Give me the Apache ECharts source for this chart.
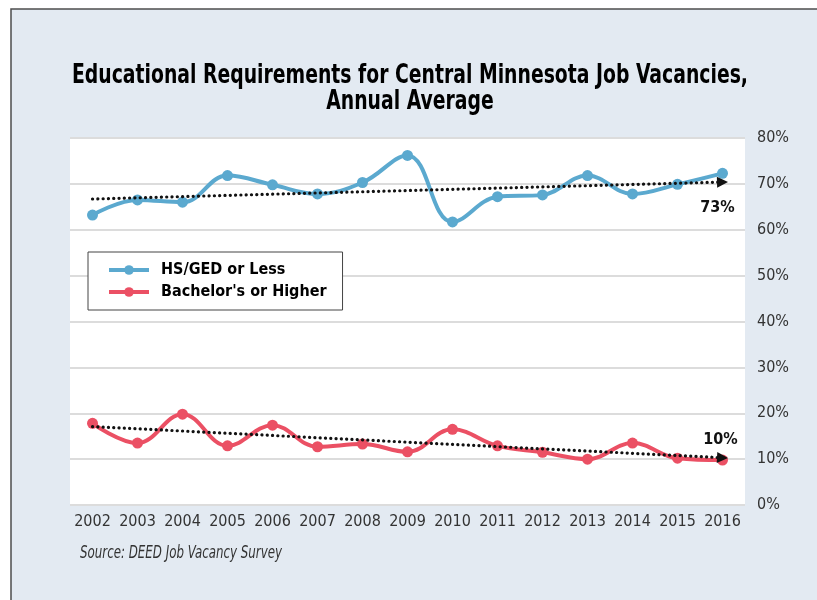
<!DOCTYPE html>
<html>
<head>
<meta charset="utf-8">
<script src="https://cdn.jsdelivr.net/npm/echarts@6/dist/echarts.min.js"></script>
<style>
  html, body { margin: 0; padding: 0; background: #fff; }
  #chart { width: 817px; height: 600px; }
</style>
</head>
<body>
<div id="chart"></div>
<script>
// 年份与两条序列（百分比）
var years = ['2002', '2003', '2004', '2005', '2006', '2007', '2008', '2009', '2010', '2011', '2012', '2013', '2014', '2015', '2016'];
var hsGed = [63.2, 66.5, 66.0, 71.8, 69.8, 67.8, 70.3, 76.2, 61.7, 67.2, 67.6, 71.8, 67.8, 69.9, 72.3];
var bachelor = [17.8, 13.5, 19.8, 12.9, 17.4, 12.7, 13.3, 11.6, 16.5, 12.9, 11.5, 10.0, 13.5, 10.2, 9.8];
// 趋势线起止值
var hsTrend = [66.7, 70.4];
var baTrend = [17.1, 10.3];
var endLabels = ['73%', '10%'];
var yTicks = [0, 80, 10];

var FONT = "'DejaVu Sans Condensed', 'DejaVu Sans', sans-serif";
var BLUE = '#5ba9cf';
var RED = '#eb5064';

// 没有窄体字，用横向缩放模拟
var ctx = document.createElement('canvas').getContext('2d');
function fitScale(text, font, width) {
  ctx.font = font;
  return width / ctx.measureText(text).width;
}

var TITLE1 = 'Educational Requirements for Central Minnesota Job Vacancies,';
var TITLE2 = 'Annual Average';
var titleFont = "bold 27px " + FONT;
var titleScale = fitScale(TITLE1, titleFont, 676);
var SOURCE = 'Source: DEED Job Vacancy Survey';
var sourceFont = "italic 17px " + FONT;
var sourceScale = fitScale(SOURCE, sourceFont, 202);

function trendLine(vals) {
  return {
    silent: true,
    symbol: ['none', 'triangle'],
    symbolSize: [11, 11],
    label: { show: false },
    lineStyle: { color: '#111', width: 3.2, type: [0.1, 5.2], cap: 'round' },
    data: [[
      { coord: [years[0], vals[0]] },
      { coord: [years[years.length - 1], vals[1]] }
    ]]
  };
}

function endLabel(val, text, offset) {
  return {
    silent: true,
    symbol: 'circle',
    symbolSize: 0,
    label: {
      show: true, formatter: text, offset: offset,
      fontFamily: FONT, fontWeight: 'bold', fontSize: 16, color: '#111'
    },
    data: [{ coord: [years[years.length - 1], val] }]
  };
}

var chart = echarts.init(document.getElementById('chart'));
chart.setOption({
  backgroundColor: '#fff',
  animation: false,
  graphic: [
    {
      type: 'rect', z: -10,
      shape: { x: 11, y: 9, width: 820, height: 600 },
      style: { fill: '#e3eaf2', stroke: '#4d4d4d', lineWidth: 1.5 }
    },
    {
      type: 'text', x: 25, y: -12, scaleX: 0.8,
      style: { text: 'FIGURE 2', font: "bold 15px " + FONT, fill: '#111' }
    },
    {
      type: 'text', x: 410, y: 62, scaleX: titleScale,
      style: { text: TITLE1, font: titleFont, fill: '#000', textAlign: 'center' }
    },
    {
      type: 'text', x: 410, y: 88, scaleX: titleScale,
      style: { text: TITLE2, font: titleFont, fill: '#000', textAlign: 'center' }
    },
    {
      type: 'text', x: 80, y: 545, scaleX: sourceScale,
      style: { text: SOURCE, font: sourceFont, fill: '#333' }
    }
  ],
  legend: {
    orient: 'vertical',
    left: 88, top: 252,
    padding: [10, 16, 10, 19],
    backgroundColor: '#fff',
    borderColor: '#444',
    borderWidth: 1,
    itemWidth: 40,
    itemHeight: 12,
    itemGap: 6,
    lineStyle: { width: 4 },
    textStyle: { fontFamily: FONT, fontWeight: 'bold', fontSize: 16, color: '#000', padding: [0, 0, 0, 7] },
    data: ['HS/GED or Less', "Bachelor's or Higher"]
  },
  grid: {
    left: 70, right: 72, top: 138, bottom: 95,
    show: true, backgroundColor: '#fff', borderWidth: 0
  },
  xAxis: {
    type: 'category',
    data: years,
    boundaryGap: true,
    axisLine: { show: false },
    axisTick: { show: false },
    axisLabel: { fontFamily: FONT, fontSize: 16, color: '#333', margin: 9, interval: 0 }
  },
  yAxis: {
    type: 'value',
    position: 'right',
    min: yTicks[0], max: yTicks[1], interval: yTicks[2],
    axisLine: { show: false },
    axisTick: { show: false },
    axisLabel: { fontFamily: FONT, fontSize: 16, color: '#333', margin: 12, formatter: '{value}%' },
    splitLine: { lineStyle: { color: '#dcdcdc', width: 2 } }
  },
  series: [
    {
      name: 'HS/GED or Less',
      type: 'line',
      data: hsGed,
      smooth: 0.4,
      symbol: 'circle',
      symbolSize: 11,
      color: BLUE,
      lineStyle: { width: 4 },
      markLine: trendLine(hsTrend),
      markPoint: endLabel(hsTrend[1], endLabels[0], [-5, 26])
    },
    {
      name: "Bachelor's or Higher",
      type: 'line',
      data: bachelor,
      smooth: 0.4,
      symbol: 'circle',
      symbolSize: 11,
      color: RED,
      lineStyle: { width: 4 },
      markLine: trendLine(baTrend),
      markPoint: endLabel(baTrend[1], endLabels[1], [-2, -18])
    }
  ]
});
</script>
</body>
</html>
